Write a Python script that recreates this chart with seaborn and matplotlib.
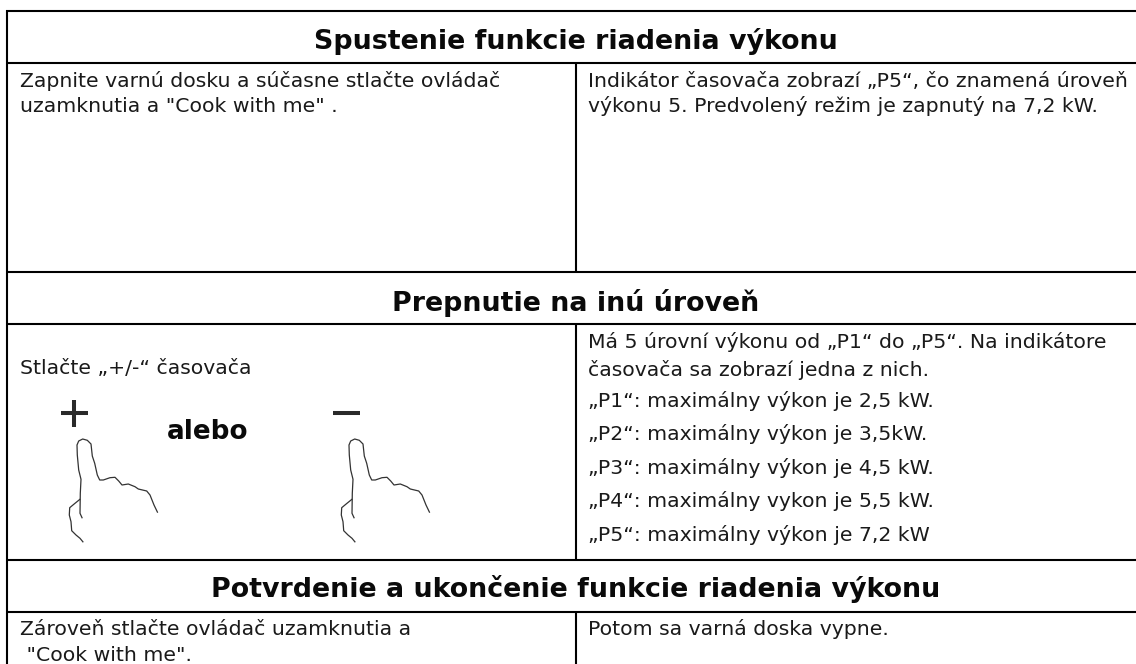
import matplotlib
matplotlib.use("Agg")
import matplotlib.pyplot as plt
import pandas as pd
import seaborn as sns

sns.set_theme(style="white")
plt.rcParams['font.family'] = ['DejaVu Sans']

headers = ["Spustenie funkcie riadenia výkonu", "Prepnutie na inú úroveň",
           "Potvrdenie a ukončenie funkcie riadenia výkonu"]
header_y = [49, 311, 597]

body_texts = [
    "Zapnite varnú dosku a súčasne stlačte ovládač", "uzamknutia a \"Cook with me\" .",
    "Indikátor časovača zobrazí „P5“, čo znamená úroveň", "výkonu 5. Predvolený režim je zapnutý na 7,2 kW.",
    "Stlačte „+/-“ časovača",
    "Má 5 úrovní výkonu od „P1“ do „P5“. Na indikátore", "časovača sa zobrazí jedna z nich.",
    "„P1“: maximálny výkon je 2,5 kW.", "„P2“: maximálny výkon je 3,5kW.",
    "„P3“: maximálny výkon je 4,5 kW.", "„P4“: maximálny vykon je 5,5 kW.",
    "„P5“: maximálny výkon je 7,2 kW",
    "Zároveň stlačte ovládač uzamknutia a", " \"Cook with me\".", "Potom sa varná doska vypne.",
]
body_x = [20, 20, 587.5, 587.5, 20, 587.5, 587.5, 587.5, 587.5, 587.5, 587.5, 587.5, 20, 20, 587.5]
body_y = [87, 112, 87, 112, 374, 348, 376, 407, 440, 474, 507, 541, 635, 661, 635]

rule_y = [11, 63, 272, 324, 559.5, 612]
vrule_x = [7, 575.5]
vrule_spans = [(10, 664), (63, 272), (324, 559.5), (612, 664)]

finger_x = [82.3, 80, 80.3, 81, 78.7, 77.3, 77, 78.7, 82.7, 87.3, 91, 92.3, 94.7, 97.3, 99.7, 103.3, 110, 115, 118.7, 122, 128.3, 135, 138.3, 146.7, 150, 154, 157.7]
finger_y = [518.3, 513.3, 493.3, 479.3, 470, 455, 445, 441, 439, 440.3, 444, 456, 463.3, 475, 480, 480, 477.7, 477.3, 481, 485, 484, 486.7, 489, 491, 495, 505, 512.7]
thumb_x = [80.3, 75, 69.7, 69.3, 71, 71.7, 76, 80, 83.3]
thumb_y = [499, 503.3, 507.7, 515, 521.7, 530.7, 535, 538.3, 542.3]
second_hand_shift = 272

fig = plt.figure(figsize=(11.36, 6.64), dpi=100)
ax = fig.add_axes([0, 0, 1, 1])


def draw(xs, ys, color="black", lw=1.5):
    df = pd.DataFrame({"x": xs, "y": ys})
    sns.lineplot(data=df, x="x", y="y", sort=False, estimator=None, color=color,
                 linewidth=lw, ax=ax, solid_capstyle="butt")


for y in rule_y:
    draw([6, 1136], [y, y])
draw([vrule_x[0]] * 2, [vrule_spans[0][0], vrule_spans[0][1]])
for a, b in vrule_spans[1:]:
    draw([vrule_x[1]] * 2, [a, b])

for dx in (0, second_hand_shift):
    draw([v + dx for v in finger_x], finger_y, color="#333333", lw=0.9)
    draw([v + dx for v in thumb_x], thumb_y, color="#333333", lw=0.9)

# plus / minus signs above the fingers
draw([60.5, 87.5], [413, 413], color="#2a2a2a", lw=2.9)
draw([74, 74], [400, 427], color="#2a2a2a", lw=2.9)
draw([333, 360], [413, 413], color="#2a2a2a", lw=2.9)

ax.set_xlim(0, 1136)
ax.set_ylim(664, 0)
ax.axis("off")

for t, y in zip(headers, header_y):
    ax.text(576, y, t, ha="center", va="baseline", fontsize=19.4, fontweight="bold", color="#0a0a0a")
for t, x, y in zip(body_texts, body_x, body_y):
    ax.text(x, y, t, ha="left", va="baseline", fontsize=14.7, color="#1a1a1a")
ax.text(167, 439, "alebo", ha="left", va="baseline", fontsize=18.9, fontweight="bold", color="#0a0a0a")

fig.savefig("out.png", dpi=100, facecolor="white")
